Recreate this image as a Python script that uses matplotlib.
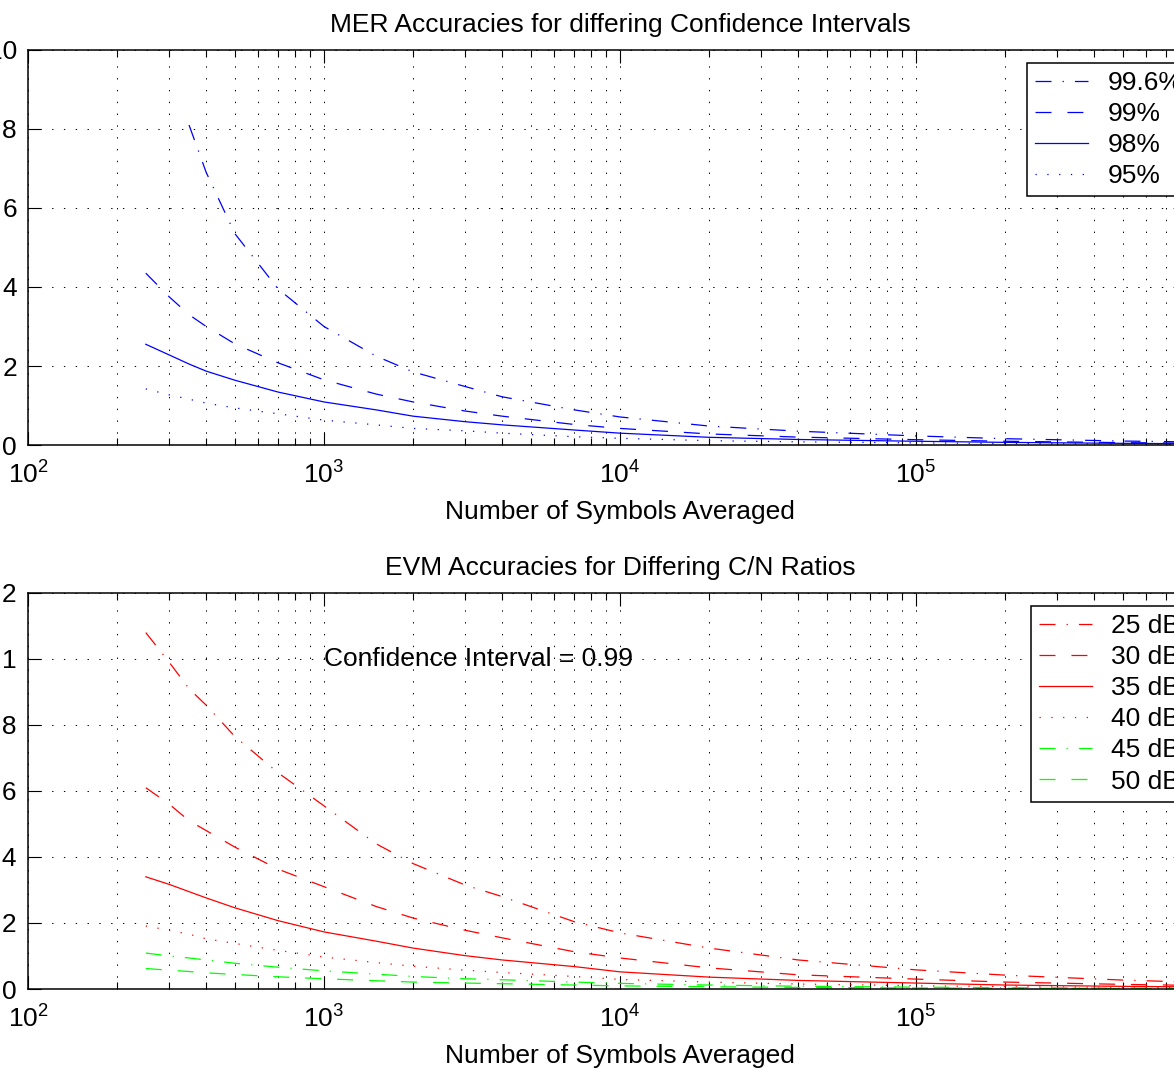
import numpy as np
import matplotlib
matplotlib.use('Agg')
from matplotlib import pyplot as plt
from matplotlib.ticker import FuncFormatter, LogLocator, MultipleLocator

# number of symbols averaged (x for both plots)
symbols = [250, 300, 350, 400, 500, 700, 1000, 1500, 2000, 3000, 4000, 7000,
           10000, 20000, 40000, 100000, 200000, 500000, 1000000]

# MER accuracy
mer_996 = [np.nan, np.nan, 8.1, 6.9, 5.35, 3.95, 3.0, 2.25, 1.85, 1.48, 1.22, 0.89,
           0.71, 0.48, 0.35, 0.23, 0.16, 0.10, 0.072]
mer_99 = [4.35, 3.75, 3.3, 3.0, 2.56, 2.08, 1.65, 1.29, 1.09, 0.86, 0.73, 0.52,
          0.42, 0.28, 0.20, 0.135, 0.095, 0.06, 0.043]
mer_98 = [2.55, 2.28, 2.05, 1.87, 1.64, 1.34, 1.09, 0.89, 0.73, 0.59, 0.51, 0.38,
          0.30, 0.195, 0.14, 0.095, 0.067, 0.042, 0.03]
mer_95 = [1.42, 1.27, 1.16, 1.06, 0.94, 0.79, 0.63, 0.51, 0.42, 0.36, 0.30, 0.21,
          0.17, 0.11, 0.08, 0.054, 0.038, 0.024, 0.017]

# EVM accuracy
evm_25 = [1.08, 0.99, 0.91, 0.86, 0.765, 0.655, 0.555, 0.44, 0.38, 0.315, 0.28, 0.204,
          0.17, 0.124, 0.088, 0.058, 0.042, 0.027, 0.019]
evm_30 = [0.61, 0.56, 0.51, 0.48, 0.43, 0.363, 0.31, 0.25, 0.215, 0.178, 0.155, 0.113,
          0.094, 0.064, 0.043, 0.03, 0.021, 0.014, 0.01]
evm_35 = [0.34, 0.317, 0.295, 0.276, 0.246, 0.207, 0.173, 0.145, 0.124, 0.101, 0.088, 0.068,
          0.052, 0.036, 0.026, 0.018, 0.012, 0.008, 0.006]
evm_40 = [0.191, 0.178, 0.166, 0.152, 0.138, 0.117, 0.097, 0.08, 0.069, 0.057, 0.05, 0.038,
          0.029, 0.021, 0.015, 0.01, 0.007, 0.005, 0.0035]
evm_45 = [0.109, 0.1, 0.094, 0.088, 0.078, 0.066, 0.055, 0.045, 0.038, 0.031, 0.028, 0.021,
          0.017, 0.012, 0.0085, 0.0055, 0.004, 0.0026, 0.0018]
evm_50 = [0.062, 0.057, 0.053, 0.049, 0.044, 0.037, 0.031, 0.025, 0.021, 0.018, 0.016, 0.012,
          0.0095, 0.0068, 0.0048, 0.003, 0.0022, 0.0014, 0.001]

mer_labels = ['99.6%', '99%', '98%', '95%']
evm_labels = ['25 dB', '30 dB', '35 dB', '40 dB', '45 dB', '50 dB']

plt.rcParams['font.family'] = ['Liberation Sans', 'DejaVu Sans']
plt.rcParams['mathtext.fontset'] = 'custom'
plt.rcParams['mathtext.rm'] = 'Liberation Sans'
plt.rcParams['lines.scale_dashes'] = False
FS = 19

dashdot = (0, (11.5, 8, 0.9, 8))
dashed = (0, (11.5, 11.5))
solid = '-'
dotted = (0, (0.9, 7.6))


def style_axes(ax, ymax, ystep):
    ax.set_xscale('log')
    ax.set_xlim(1e2, 1e6)
    ax.set_ylim(0, ymax)
    ax.yaxis.set_major_locator(MultipleLocator(ystep))
    ax.yaxis.set_major_formatter(FuncFormatter(lambda v, p: '%g' % round(v, 6)))
    ax.xaxis.set_minor_locator(LogLocator(base=10, subs=range(2, 10)))
    ax.xaxis.set_minor_formatter(FuncFormatter(lambda v, p: ''))
    ax.tick_params(which='both', direction='in', top=True, right=True,
                   labelsize=FS, width=0.8)
    ax.tick_params(which='major', length=9.4)
    ax.tick_params(which='minor', length=5)
    ax.tick_params(axis='y', which='major', pad=8)
    ax.tick_params(axis='x', which='major', pad=12)
    ax.grid(True, which='major', color='k', lw=0.7, linestyle=(0, (1, 7.5)))
    ax.xaxis.grid(True, which='minor', color='k', lw=0.7, linestyle=(0, (1, 7.5)))
    for s in ax.spines.values():
        s.set_linewidth(1.1)
    ax.set_xlabel('Number of Symbols Averaged', fontsize=FS, labelpad=8)


def style_legend(leg):
    frame = leg.get_frame()
    frame.set_edgecolor('k')
    frame.set_linewidth(1.1)
    frame.set_alpha(1)


legend_opts = dict(loc='upper left', fontsize=FS, frameon=True, fancybox=False,
                   borderaxespad=0, handlelength=2.0, handletextpad=0.75,
                   borderpad=0.3, labelspacing=0.27)

fig = plt.figure(figsize=(11.74, 10.70), dpi=100)

ax1 = fig.add_axes([0.02385, 0.5841, 1.0085, 0.3692])
for vals, ls in zip([mer_996, mer_99, mer_98, mer_95], [dashdot, dashed, solid, dotted]):
    ax1.plot(symbols, vals, color='b', lw=0.9, linestyle=ls)
style_axes(ax1, 10, 2)
ax1.set_title('MER Accuracies for differing Confidence Intervals', fontsize=FS, pad=13)
style_legend(ax1.legend(mer_labels, bbox_to_anchor=(0.8438, 0.967), **legend_opts))

ax2 = fig.add_axes([0.02385, 0.0757, 1.0085, 0.3701])
evm_sets = [(evm_25, 'r', dashdot), (evm_30, 'r', dashed), (evm_35, 'r', solid),
            (evm_40, 'r', dotted), (evm_45, '#00ff00', dashdot), (evm_50, '#00ff00', dashed)]
for vals, c, ls in evm_sets:
    ax2.plot(symbols, vals, color=c, lw=0.9, linestyle=ls)
style_axes(ax2, 1.2, 0.2)
ax2.set_title('EVM Accuracies for Differing C/N Ratios', fontsize=FS, pad=13)
ax2.text(1000, 1.0, 'Confidence Interval = 0.99', fontsize=FS, ha='left', va='center')
style_legend(ax2.legend(evm_labels, bbox_to_anchor=(0.847, 0.967), **legend_opts))

fig.savefig('out.png', dpi=100)
